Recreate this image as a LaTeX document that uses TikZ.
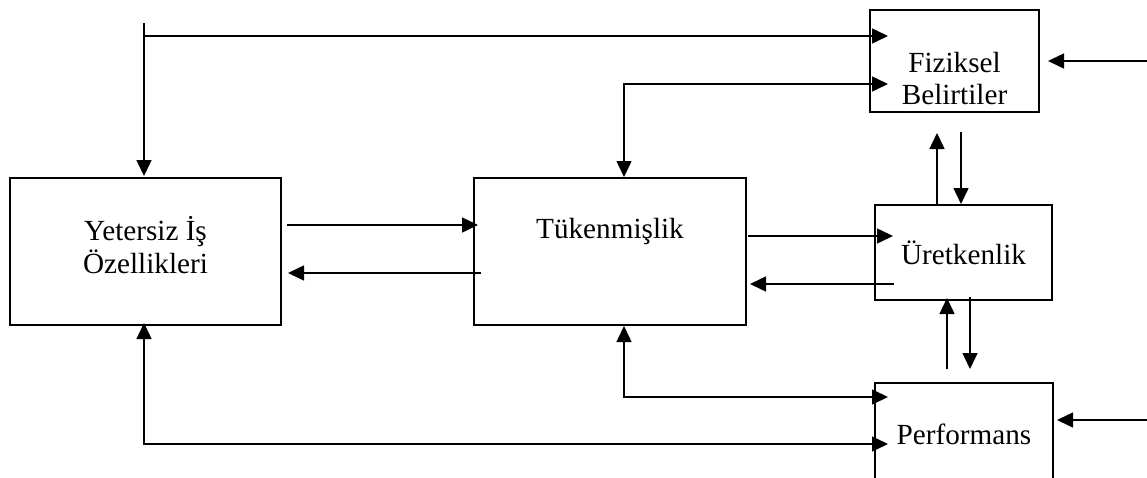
\documentclass[tikz,border=0pt]{standalone}
\usepackage{fontspec}
\setmainfont{Liberation Serif}
\usetikzlibrary{arrows.meta}
\begin{document}
\begin{tikzpicture}[x=1pt,y=-1pt,
  >={Triangle[length=16pt,width=15pt]},
  box/.style={draw=black,line width=2.3pt,rectangle,inner sep=0pt,outer sep=0pt},
  txt/.style={inner sep=0pt,anchor=base,font=\fontsize{29.2}{33}\selectfont},
  conn/.style={line width=1.5pt,draw=black}]
\useasboundingbox (0,0) rectangle (1147,477);
\clip (0,0) rectangle (1147,477);
\fill[white] (0,0) rectangle (1147,477);
% boxes
\node[box,minimum width=271pt,minimum height=147pt] (Y) at (145.5,251.5) {};
\node[box,minimum width=272pt,minimum height=147pt] (T) at (610,251.5) {};
\node[box,minimum width=169pt,minimum height=102pt] (F) at (954.5,61) {};
\node[box,minimum width=177pt,minimum height=95pt] (U) at (963.5,252.5) {};
\node[box,minimum width=178pt,minimum height=104pt] (P) at (964,435) {};
% texts
\node[txt] (Y1) at (145.5,240) {Yetersiz İş};
\node[txt] (Y2) at (145.5,273) {Özellikleri};
\node[txt] (T1) at (610,238) {Tükenmişlik};
\node[txt] (F1) at (954.5,72) {Fiziksel};
\node[txt] (F2) at (954.5,104) {Belirtiler};
\node[txt] (U1) at (963.5,264) {Üretkenlik};
\node[txt] (P1) at (964,444) {Performans};
% free ends
\coordinate (s1) at (144,23);
\coordinate (j1) at (144,36);
\coordinate (e1) at (1147,61);
\coordinate (e2) at (1147,420);
% connectors
\draw[conn,->] (s1) -- ([xshift=-1.5pt,yshift=2pt]Y.north);
\draw[conn,->] (j1) -- ([xshift=18pt,yshift=25pt]F.west);
\draw[conn,<->] ([xshift=18pt,yshift=-23pt]F.west) -| ([xshift=14pt,yshift=1pt]T.north);
\draw[conn,->] (e1) -- ([xshift=9pt]F.east);
\draw[conn,->] ([xshift=6pt,yshift=26.5pt]Y.east) -- ([xshift=4pt,yshift=26.5pt]T.west);
\draw[conn,->] ([xshift=7pt,yshift=-21.5pt]T.west) -- ([xshift=7pt,yshift=-21.5pt]Y.east);
\draw[conn,->] ([xshift=2pt,yshift=15.5pt]T.east) -- ([xshift=18pt,yshift=16.5pt]U.west);
\draw[conn,->] ([xshift=19pt,yshift=-31.5pt]U.west) -- ([xshift=4pt,yshift=-32.5pt]T.east);
\draw[conn,->] ([xshift=-26.5pt]U.north) -- ([xshift=-17.5pt,yshift=-21pt]F.south);
\draw[conn,->] ([xshift=6.5pt,yshift=-20pt]F.south) -- ([xshift=-2.5pt,yshift=1pt]U.north);
\draw[conn,->] ([xshift=-17pt,yshift=14pt]P.north) -- ([xshift=-16.5pt,yshift=2pt]U.south);
\draw[conn,->] ([xshift=6.5pt,yshift=3pt]U.south) -- ([xshift=6pt,yshift=14pt]P.north);
\draw[conn,<->] ([xshift=14pt,yshift=-1pt]T.south) |- ([xshift=13pt,yshift=38pt]P.west);
\draw[conn,<->] ([xshift=-1.5pt,yshift=2pt]Y.south) |- ([xshift=13pt,yshift=-9pt]P.west);
\draw[conn,->] (e2) -- ([xshift=4pt,yshift=15pt]P.east);
\end{tikzpicture}
\end{document}
